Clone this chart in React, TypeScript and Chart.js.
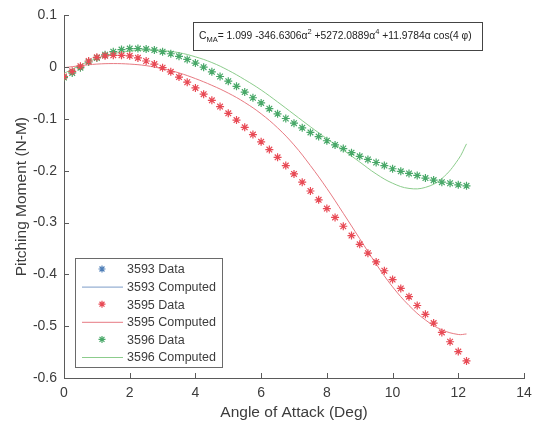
import React, { useEffect, useRef } from 'react';
import { Chart, registerables } from 'chart.js';
Chart.register(...registerables);

// Angle of attack (deg) for measured points
const dataAngles = [
  0, 0.25, 0.5, 0.75, 1, 1.25, 1.5, 1.75, 2, 2.25, 2.5, 2.75, 3, 3.25, 3.5, 3.75,
  4, 4.25, 4.5, 4.75, 5, 5.25, 5.5, 5.75, 6, 6.25, 6.5, 6.75, 7, 7.25, 7.5, 7.75,
  8, 8.25, 8.5, 8.75, 9, 9.25, 9.5, 9.75, 10, 10.25, 10.5, 10.75, 11, 11.25, 11.5,
  11.75, 12, 12.25,
];
// Angle of attack (deg) for computed curves
const computedAngles = [
  0, 0.5, 1, 1.5, 2, 2.5, 3, 3.5, 4, 4.5, 5, 5.5, 6, 6.5, 7, 7.5, 8, 8.5, 9, 9.5,
  10, 10.5, 11, 11.5, 12, 12.25,
];

const data3593: number[] = [];
const computed3593: number[] = [];

const data3595 = [
  -0.018, -0.008, 0.002, 0.012, 0.019, 0.022, 0.023, 0.023, 0.022, 0.018, 0.012, 0.006,
  -0.001, -0.009, -0.019, -0.029, -0.04, -0.052, -0.064, -0.076, -0.089, -0.102, -0.116,
  -0.13, -0.144, -0.159, -0.174, -0.19, -0.206, -0.222, -0.239, -0.256, -0.273, -0.29,
  -0.307, -0.325, -0.342, -0.359, -0.376, -0.393, -0.41, -0.427, -0.443, -0.46, -0.477,
  -0.494, -0.512, -0.53, -0.549, -0.567,
];
const computed3595 = [
  -0.001, 0.003, 0.006, 0.007, 0.006, 0.003, -0.003, -0.011, -0.022, -0.035, -0.05,
  -0.068, -0.09, -0.117, -0.15, -0.19, -0.234, -0.282, -0.331, -0.38, -0.424, -0.46,
  -0.488, -0.507, -0.516, -0.515,
];

const data3596 = [
  -0.02, -0.011, -0.001, 0.01, 0.018, 0.024, 0.03, 0.034, 0.036, 0.036, 0.035, 0.033,
  0.03, 0.026, 0.021, 0.015, 0.008, 0.0, -0.009, -0.018, -0.027, -0.037, -0.048, -0.059,
  -0.069, -0.08, -0.09, -0.099, -0.108, -0.117, -0.126, -0.134, -0.142, -0.15, -0.157,
  -0.165, -0.172, -0.178, -0.184, -0.19, -0.196, -0.201, -0.205, -0.209, -0.214, -0.218,
  -0.222, -0.224, -0.227, -0.229,
];
const computed3596 = [
  -0.012, 0.004, 0.017, 0.026, 0.031, 0.033, 0.032, 0.028, 0.02, 0.009, -0.006, -0.024,
  -0.044, -0.067, -0.091, -0.115, -0.138, -0.16, -0.183, -0.206, -0.224, -0.234, -0.232,
  -0.215, -0.178, -0.148,
];

const xTicks = [0, 2, 4, 6, 8, 10, 12, 14];
const yTicks = [-0.6, -0.5, -0.4, -0.3, -0.2, -0.1, 0, 0.1];

const BLUE_M = '#4f7fb8';
const BLUE_L = '#7d9cc8';
const RED_M = '#e84a55';
const RED_L = '#e77a82';
const GREEN_M = '#48a868';
const GREEN_L = '#8ccc8c';
const AXIS = '#5a5a5a';
const TEXT = '#3c3c3c';
const FONT = '"Liberation Sans", Arial, sans-serif';

const pts = (xs: number[], ys: number[]) => ys.map((y, i) => ({ x: xs[i], y }));

function drawStar(ctx: CanvasRenderingContext2D, x: number, y: number, r: number, color: string) {
  ctx.save();
  ctx.strokeStyle = color;
  ctx.lineWidth = 1.2;
  ctx.beginPath();
  ctx.moveTo(x - r, y); ctx.lineTo(x + r, y);
  ctx.moveTo(x, y - r); ctx.lineTo(x, y + r);
  const d = r * 0.707;
  ctx.moveTo(x - d, y - d); ctx.lineTo(x + d, y + d);
  ctx.moveTo(x - d, y + d); ctx.lineTo(x + d, y - d);
  ctx.stroke();
  ctx.restore();
}

const decorPlugin = {
  id: 'decor',
  afterDraw(chart: any) {
    const ctx: CanvasRenderingContext2D = chart.ctx;
    const xs = chart.scales.x;
    const ys = chart.scales.y;
    const area = chart.chartArea;
    // inward ticks
    ctx.save();
    ctx.strokeStyle = AXIS;
    ctx.lineWidth = 1;
    ctx.beginPath();
    xTicks.forEach((t) => {
      const px = Math.round(xs.getPixelForValue(t)) + 0.5;
      ctx.moveTo(px, area.bottom);
      ctx.lineTo(px, area.bottom - 5);
    });
    yTicks.forEach((t) => {
      const py = Math.round(ys.getPixelForValue(t)) + 0.5;
      ctx.moveTo(area.left, py);
      ctx.lineTo(area.left + 5, py);
    });
    ctx.stroke();
    ctx.restore();

    // legend box
    const lx = 75, ly = 258, lw = 147, lh = 109;
    ctx.save();
    ctx.fillStyle = '#ffffff';
    ctx.fillRect(lx, ly, lw, lh);
    ctx.strokeStyle = '#6a6a6a';
    ctx.lineWidth = 1;
    ctx.strokeRect(lx + 0.5, ly + 0.5, lw, lh);
    ctx.font = `12.5px ${FONT}`;
    ctx.textBaseline = 'middle';
    chart.data.datasets.forEach((ds: any, i: number) => {
      const cy = ly + 11 + i * 17.6;
      if (ds.showLine === false) {
        drawStar(ctx, 102, cy, 3.5, ds.borderColor);
      } else {
        ctx.strokeStyle = ds.borderColor;
        ctx.lineWidth = 1;
        ctx.beginPath();
        ctx.moveTo(82, cy + 0.5);
        ctx.lineTo(123, cy + 0.5);
        ctx.stroke();
      }
      ctx.fillStyle = TEXT;
      ctx.fillText(ds.label, 127, cy + 1);
    });
    ctx.restore();

    // formula annotation
    const bx = 193, by = 22, bw = 289, bh = 28;
    ctx.save();
    ctx.fillStyle = '#ffffff';
    ctx.fillRect(bx, by, bw, bh);
    ctx.strokeStyle = '#444444';
    ctx.lineWidth = 1;
    ctx.strokeRect(bx + 0.5, by + 0.5, bw, bh);
    ctx.fillStyle = '#222222';
    ctx.textBaseline = 'alphabetic';
    const base = by + 17;
    let cx = bx + 6;
    const parts: [string, number, number][] = [
      ['C', 10.3, 0],
      ['MA', 7.5, 3],
      ['= 1.099 -346.6306α', 10.3, 0],
      ['2', 7.5, -5],
      [' +5272.0889α', 10.3, 0],
      ['4', 7.5, -5],
      [' +11.9784α cos(4 φ)', 10.3, 0],
    ];
    parts.forEach(([txt, size, dy]) => {
      ctx.font = `${size}px ${FONT}`;
      ctx.fillText(txt, cx, base + dy);
      cx += ctx.measureText(txt).width;
    });
    ctx.restore();
  },
};

export default function App() {
  const ref = useRef<HTMLCanvasElement>(null);
  useEffect(() => {
    document.body.style.margin = '0';
    const chart = new Chart(ref.current as HTMLCanvasElement, {
      type: 'line',
      data: {
        datasets: [
          {
            label: '3593 Data', data: pts(dataAngles, data3593), showLine: false,
            borderColor: BLUE_M, backgroundColor: BLUE_M, pointStyle: 'star', pointRadius: 4, borderWidth: 1.2,
          },
          {
            label: '3593 Computed', data: pts(computedAngles, computed3593),
            borderColor: BLUE_L, backgroundColor: BLUE_L, pointRadius: 0, borderWidth: 1, tension: 0.4,
          },
          {
            label: '3595 Data', data: pts(dataAngles, data3595), showLine: false,
            borderColor: RED_M, backgroundColor: RED_M, pointStyle: 'star', pointRadius: 4, borderWidth: 1.2,
          },
          {
            label: '3595 Computed', data: pts(computedAngles, computed3595),
            borderColor: RED_L, backgroundColor: RED_L, pointRadius: 0, borderWidth: 1, tension: 0.4,
          },
          {
            label: '3596 Data', data: pts(dataAngles, data3596), showLine: false,
            borderColor: GREEN_M, backgroundColor: GREEN_M, pointStyle: 'star', pointRadius: 4, borderWidth: 1.2,
          },
          {
            label: '3596 Computed', data: pts(computedAngles, computed3596),
            borderColor: GREEN_L, backgroundColor: GREEN_L, pointRadius: 0, borderWidth: 1, tension: 0.4,
          },
        ],
      },
      options: {
        animation: false,
        responsive: false,
        layout: { padding: { top: 14, right: 15, left: 0, bottom: 0 } },
        plugins: { legend: { display: false }, tooltip: { enabled: false } },
        scales: {
          x: {
            type: 'linear', min: 0, max: 14,
            afterBuildTicks: (s: any) => { s.ticks = xTicks.map((v) => ({ value: v })); },
            afterFit: (s: any) => { s.height = 49; },
            grid: { display: false, drawTicks: false },
            border: { display: true, color: AXIS, width: 1 },
            ticks: { padding: 7, color: TEXT, font: { family: FONT, size: 14 }, maxRotation: 0 },
            title: {
              display: true, text: 'Angle of Attack (Deg)', color: TEXT,
              font: { family: FONT, size: 15.5 }, padding: { top: 0, bottom: 5 },
            },
          },
          y: {
            type: 'linear', min: -0.6, max: 0.1,
            afterBuildTicks: (s: any) => { s.ticks = yTicks.map((v) => ({ value: v })); },
            afterFit: (s: any) => { s.width = 64; },
            grid: { display: false, drawTicks: false },
            border: { display: true, color: AXIS, width: 1 },
            ticks: {
              padding: 7, color: TEXT, font: { family: FONT, size: 14 },
              callback: (v: any) => String(Math.round(Number(v) * 10) / 10),
            },
            title: {
              display: true, text: 'Pitching Moment (N-M)', color: TEXT,
              font: { family: FONT, size: 15.5 }, padding: { top: 12, bottom: 0 },
            },
          },
        },
      },
      plugins: [decorPlugin],
    } as any);
    return () => chart.destroy();
  }, []);
  return (
    <div style={{ position: 'absolute', left: 0, top: 0, width: 539, height: 427, background: '#fff' }}>
      <canvas ref={ref} width={539} height={427} style={{ display: 'block', width: 539, height: 427 }} />
    </div>
  );
}
